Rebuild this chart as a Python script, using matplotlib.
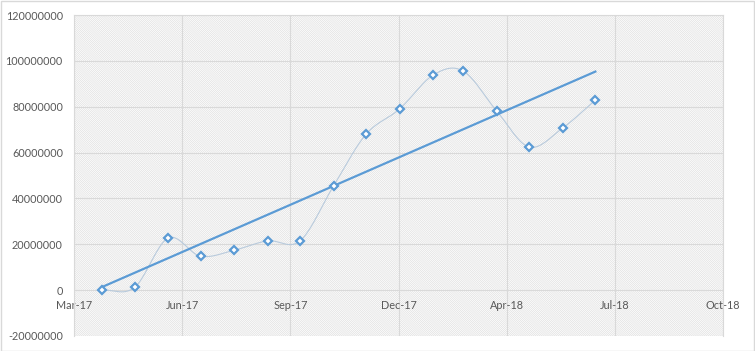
import numpy as np
import pandas as pd
import matplotlib
matplotlib.use('Agg')
import matplotlib.pyplot as plt
import matplotlib.dates as mdates
import matplotlib.ticker as ticker
from matplotlib.patches import Rectangle

plt.rcParams['font.family'] = ['Lato', 'DejaVu Sans']
plt.rcParams['hatch.linewidth'] = 0.5

# 数据（按月）
months = pd.date_range('2017-04-01', '2018-07-01', freq='MS')
values = [0, 1200000, 22700000, 14800000, 17400000, 21500000, 21500000, 45500000,
          68000000, 79000000, 93800000, 95500000, 78000000, 62400000, 70800000, 82900000]

# 坐标轴
x_start = pd.Timestamp('2017-03-06')
x_end = pd.Timestamp('2018-10-27')
y_ticks = [-20000000, 0, 20000000, 40000000, 60000000, 80000000, 100000000, 120000000]

blue = '#5b9bd5'
pale = '#b8cadc'
grid_c = '#d9d9d9'
text_c = '#595959'


def catmull_rom(x, y, n=20):
    """平滑曲线（类似 Excel 的平滑线）"""
    px = np.concatenate([[2 * x[0] - x[1]], x, [2 * x[-1] - x[-2]]])
    py = np.concatenate([[2 * y[0] - y[1]], y, [2 * y[-1] - y[-2]]])
    xs, ys = [], []
    t = np.linspace(0, 1, n)
    for i in range(1, len(px) - 2):
        for p, out in ((px, xs), (py, ys)):
            p0, p1, p2, p3 = p[i - 1], p[i], p[i + 1], p[i + 2]
            out.extend(0.5 * ((2 * p1) + (-p0 + p2) * t + (2 * p0 - 5 * p1 + 4 * p2 - p3) * t ** 2
                              + (-p0 + 3 * p1 - 3 * p2 + p3) * t ** 3))
    return np.array(xs), np.array(ys)


fig = plt.figure(figsize=(7.55, 3.51), dpi=100)
ax = fig.add_axes([74 / 755, 15 / 351, 649 / 755, 321 / 351])

# 斜线背景
ax.add_patch(Rectangle((0, 0), 1, 1, transform=ax.transAxes, facecolor='white',
                       edgecolor='#e0e0e0', hatch='\\' * 16, linewidth=0, zorder=0))

xn = mdates.date2num(months)
yv = np.array(values, dtype=float)

# 平滑线
sx, sy = catmull_rom(xn, yv)
ax.plot(sx, sy, color=pale, lw=0.8, zorder=3)

# 线性趋势线
k, b = np.polyfit(xn, yv, 1)
ax.plot([xn[0], xn[-1]], [k * xn[0] + b, k * xn[-1] + b], color=blue, lw=1.6, zorder=4)

# 数据点
ax.plot(xn, yv, ls='none', marker='D', ms=4.3, mfc='white', mec=blue, mew=1.6, zorder=5)

ax.set_xlim(mdates.date2num(x_start), mdates.date2num(x_end))
ax.set_ylim(y_ticks[0], y_ticks[-1])
ax.xaxis.set_major_locator(ticker.MultipleLocator(100, offset=mdates.date2num(x_start) % 100))
ax.xaxis.set_major_formatter(mdates.DateFormatter('%b-%y'))
ax.set_yticks(y_ticks)
ax.yaxis.set_major_formatter(ticker.FuncFormatter(lambda v, p: '%d' % v))

ax.grid(True, color=grid_c, lw=0.8, zorder=1)
ax.set_axisbelow(True)
for s in ax.spines.values():
    s.set_color(grid_c)
    s.set_linewidth(0.8)
ax.spines['bottom'].set_position(('data', 0))
ax.spines['bottom'].set_visible(False)

ax.tick_params(axis='both', length=0, labelsize=7.8, labelcolor=text_c)
ax.tick_params(axis='y', pad=8)
ax.tick_params(axis='x', pad=7)

# 图表边框
fig.add_artist(Rectangle((0.5 / 755, 0.5 / 351), 1 - 1.5 / 755, 1 - 1.5 / 351,
                         transform=fig.transFigure, fill=False, edgecolor=grid_c, lw=1))

fig.savefig('out.png', dpi=100)
